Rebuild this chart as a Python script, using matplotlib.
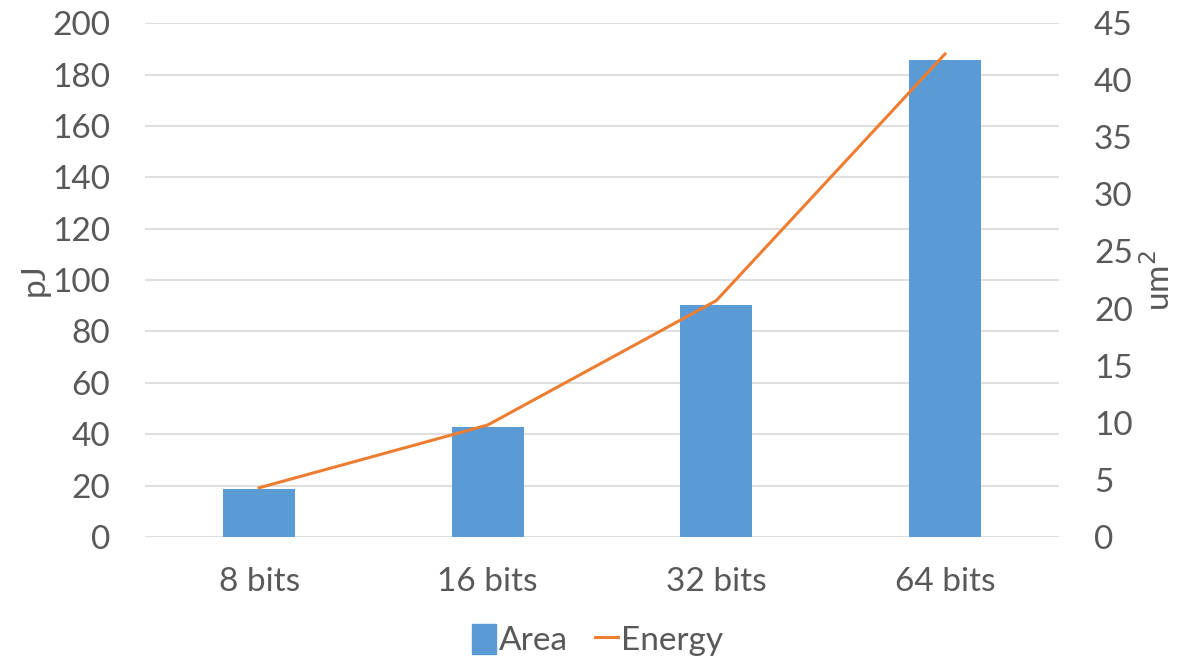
import numpy as np
import matplotlib.pyplot as plt
from matplotlib.patches import Patch
from matplotlib.lines import Line2D

plt.rcParams['font.family'] = ['Lato', 'DejaVu Sans']

categories = ['8 bits', '16 bits', '32 bits', '64 bits']
area = [18.7, 42.8, 90.3, 185.7]
energy = [4.3, 9.8, 20.7, 42.3]

left_ticks = np.arange(0, 201, 20)
right_ticks = np.arange(0, 46, 5)

text_col = '#595959'
bar_col = '#5B9BD5'
line_col = '#ED7D31'

fig = plt.figure(figsize=(11.77, 6.62), dpi=100)
ax = fig.add_axes([0.123, 0.189, 0.777, 0.776])
x = np.arange(len(categories))

ax.bar(x, area, width=0.315, color=bar_col, zorder=2)
ax.set_xlim(-0.5, len(categories) - 0.5)
ax.set_ylim(0, 200)
ax.set_yticks(left_ticks)
ax.set_xticks(x)
ax.set_xticklabels(categories)
ax.grid(axis='y', color='#D9D9D9', linewidth=1.2, zorder=0)
ax.set_axisbelow(True)
for s in ax.spines.values():
    s.set_visible(False)
ax.tick_params(length=0, labelsize=24, colors=text_col, pad=25)
ax.tick_params(axis='x', pad=22)
ax.set_ylabel('pJ', fontsize=24, color=text_col, labelpad=2)

ax2 = ax.twinx()
ax2.plot(x, energy, color=line_col, linewidth=2.2, zorder=3)
ax2.set_ylim(0, 45)
ax2.set_yticks(right_ticks)
for s in ax2.spines.values():
    s.set_visible(False)
ax2.tick_params(length=0, labelsize=24, colors=text_col, pad=25)
ax2.set_ylabel('um$^2$', fontsize=24, color=text_col, labelpad=6)

handles = [Patch(color=bar_col), Line2D([0], [0], color=line_col, linewidth=2.2)]
fig.legend(handles, ['Area', 'Energy'], loc='center', bbox_to_anchor=(0.508, 0.033),
           ncol=2, frameon=False, fontsize=24, labelcolor=text_col,
           handlelength=0.7, handletextpad=0.1, columnspacing=0.8, handleheight=1.0)

fig.savefig('out.png', dpi=100)
